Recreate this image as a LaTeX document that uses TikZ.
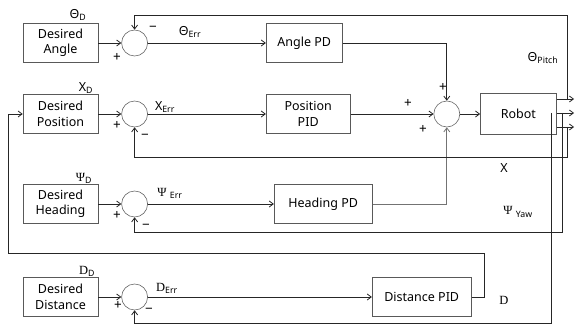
\documentclass[tikz,border=0pt]{standalone}
\usepackage{fontspec}
\setmainfont{Noto Sans}
\newfontfamily\serifsym{Liberation Serif}
\usetikzlibrary{arrows.meta, positioning}

\begin{document}
\begin{tikzpicture}[
    x=1pt, y=-1pt,
    font=\fontsize{12.5}{15.5}\selectfont,
    block/.style={
        rectangle,
        draw=black!65,
        line width=0.6pt,
        align=center,
        minimum height=39pt,
        inner sep=2pt
    },
    summer/.style={
        circle,
        draw=black!60,
        line width=0.6pt,
        minimum size=26pt,
        inner sep=0pt
    },
    line/.style={
        draw,
        -{Straight Barb[length=4pt, width=6pt]},
        line width=0.8pt,
        black!85
    },
    sign/.style={font=\fontsize{13.5}{13.5}\selectfont, inner sep=0pt},
    tag/.style={inner sep=0pt}
]

    \useasboundingbox (0,0) rectangle (575,328);

    % reference inputs
    \node [block, minimum width=75pt] (desang) at (60.5,43) {Desired\\Angle};
    \node [block, minimum width=75pt] (despos) at (60.5,114) {Desired\\Position};
    \node [block, minimum width=75pt] (deshead) at (60.5,204) {Desired\\Heading};
    \node [block, minimum width=75pt] (desdist) at (60.5,297) {Desired\\Distance};

    \node [summer, right=23pt of desang] (sumang) {};
    \node [summer, right=23pt of despos] (sumpos) {};
    \node [summer, right=23pt of deshead] (sumhead) {};
    \node [summer, right=23pt of desdist] (sumdist) {};

    % controllers
    \node [block, minimum width=76pt, right=118pt of sumang] (angpd) {Angle PD};
    \node [block, minimum width=84pt, right=118pt of sumpos] (pospid) {Position\\PID};
    \node [block, minimum width=98pt, right=126pt of sumhead] (headpd) {Heading PD};
    \node [block, minimum width=99pt, right=224pt of sumdist] (distpid) {Distance PID};

    \node [summer, right=83pt of pospid] (summain) {};
    \node [block, minimum width=76pt, minimum height=41pt, right=20pt of summain] (robot) {Robot};

    \coordinate (pitchout) at (574,99);
    \coordinate (xout) at (574,113);
    \coordinate (yawout) at (574,127);
    \coordinate (pitchtap) at (567,99);
    \coordinate (xtap) at (567,127);
    \coordinate (yawtap) at (562,113);
    \coordinate (disttap) at (551,113);
    \coordinate (loopcorner) at (8,253);

    \draw [line] (desang) -- (sumang);
    \draw [line] (despos) -- (sumpos);
    \draw [line] (deshead) -- (sumhead);
    \draw [line] (desdist) -- (sumdist);

    \draw [line] (sumang) -- (angpd);
    \draw [line] (sumpos) -- (pospid);
    \draw [line] (sumhead) -- (headpd);
    \draw [line] (sumdist) -- (distpid);

    \draw [line] (angpd.east) -| (summain.north);
    \draw [line] (pospid) -- (summain);
    \draw [line, black!55] (headpd.east) -| (summain.south);
    \draw [line] (summain) -- (robot);

    \draw [line] (robot.east |- pitchout) -- (pitchout);
    \draw [line] (robot.east |- xout) -- (xout);
    \draw [line] (robot.east |- yawout) -- (yawout);

    % feedback paths
    \draw [line] (pitchtap) -- ++(0,-84) -| (sumang.north);
    \draw [line] (xtap) -- ++(0,30) -| (sumpos.south);
    \draw [line] (yawtap) -- ++(0,119) -| (sumhead.south);
    \draw [line] (disttap) -- ++(0,210) -| (sumdist.south);
    \draw [line] (distpid.east) -- ++(13,0) |- (loopcorner) |- (despos.west);

    % signal labels
    \node [tag] (thetad) at (78,15) {Θ\textsubscript{D}};
    \node [tag] (xd) at (86,88) {X\textsubscript{D}};
    \node [tag] (psid) at (84,178) {{\serifsym Ψ}\textsubscript{D}};
    \node [tag] (dd) at (87,271) {{\serifsym D}\textsubscript{D}};
    \node [tag] (thetaerr) at (190,32) {Θ\textsubscript{Err}};
    \node [tag] (xerr) at (165,107) {X\textsubscript{Err}};
    \node [tag] (psierr) at (170,193) {{\serifsym Ψ} \textsubscript{Err}};
    \node [tag] (derr) at (167,288) {{\serifsym D}\textsubscript{Err}};
    \node [tag] (thetapitch) at (543,58) {Θ\textsubscript{Pitch}};
    \node [tag] (xlabel) at (504,168) {X};
    \node [tag] (psiyaw) at (518,212) {{\serifsym Ψ} \textsubscript{Yaw}};
    \node [tag] (dlabel) at (504,300) {\serifsym D};

    % summer signs
    \node [sign] (angminus) at (153,29) {−};
    \node [sign] (angplus) at (117,57) {+};
    \node [sign] (posplus) at (117,125) {+};
    \node [sign] (posminus) at (145,137) {−};
    \node [sign] (headplus) at (117,215) {+};
    \node [sign] (headminus) at (146,227) {−};
    \node [sign] (distplus) at (118,305) {+};
    \node [sign] (distminus) at (149,311) {−};
    \node [sign] (mainplustop) at (443,87) {+};
    \node [sign] (mainplusleft) at (408,103) {+};
    \node [sign] (mainplusbottom) at (423,129) {+};

\end{tikzpicture}
\end{document}
